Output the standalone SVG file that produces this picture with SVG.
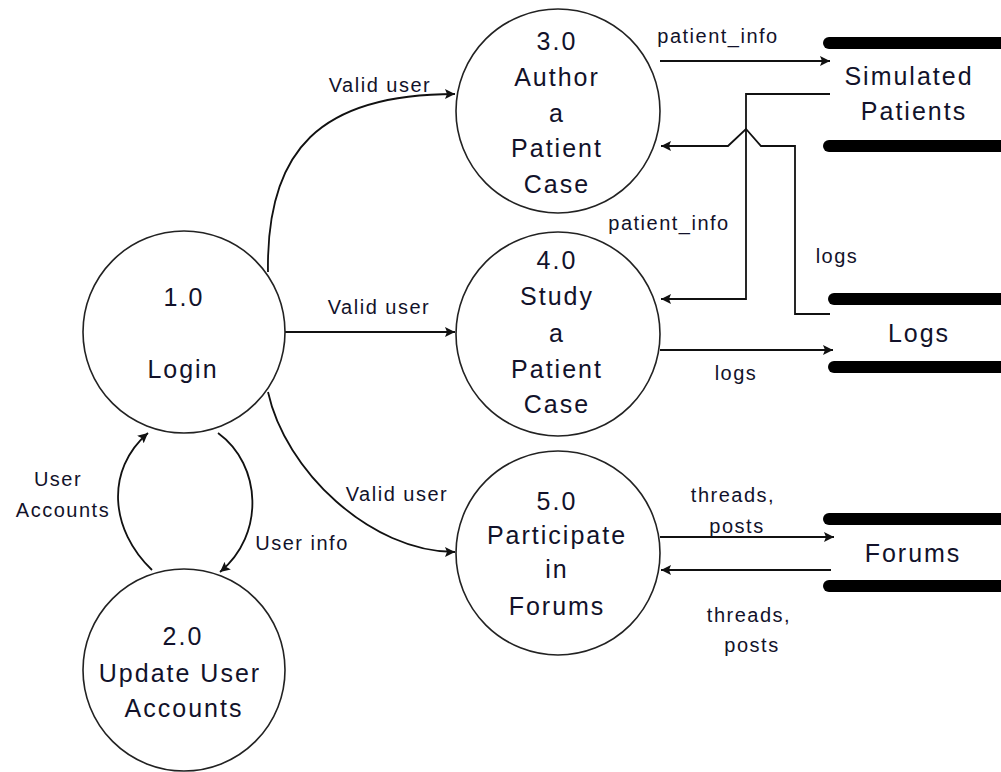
<svg xmlns="http://www.w3.org/2000/svg" width="1001" height="772" viewBox="0 0 1001 772">
<style>
.bub{fill:#fff;stroke:#222;stroke-width:1.6}
.nt{font-family:"Liberation Sans",Arial,sans-serif;font-size:25px;letter-spacing:2px;fill:#12122a;text-anchor:middle}
.lb{font-family:"Liberation Sans",Arial,sans-serif;font-size:20px;letter-spacing:1.5px;fill:#12122a;text-anchor:middle}
.bar{stroke:#000;stroke-width:12;stroke-linecap:round;fill:none}
.cn{fill:none;stroke:#111;stroke-width:1.8}
</style>
<defs>
<marker id="ah" viewBox="0 0 10 10" refX="10" refY="5" markerWidth="10" markerHeight="10" markerUnits="userSpaceOnUse" orient="auto">
<path d="M0,0 L10,5 L0,10 L2,5 z" fill="#111"/>
</marker>
</defs>
<rect width="1001" height="772" fill="#fff"/>

<g id="connectors">
<path class="cn" marker-end="url(#ah)" d="M268,272 C266,150 320,94 455,94"/>
<path class="cn" marker-end="url(#ah)" d="M285,332 L455,332"/>
<path class="cn" marker-end="url(#ah)" d="M268,392 C285,470 370,552 455,552"/>
<path class="cn" marker-end="url(#ah)" d="M152,570 C110,530 105,470 148,433"/>
<path class="cn" marker-end="url(#ah)" d="M218,433 C262,465 265,535 220,572"/>
<path class="cn" marker-end="url(#ah)" d="M660,61 L830,61"/>
<path class="cn" marker-end="url(#ah)" d="M830,94 L746,94 L746,299 L661,299"/>
<path class="cn" marker-end="url(#ah)" d="M830,314 L795,314 L795,146 L761,146 L746,129 L728,146 L661,146"/>
<path class="cn" marker-end="url(#ah)" d="M660,350 L833,350"/>
<path class="cn" marker-end="url(#ah)" d="M660,537 L834,537"/>
<path class="cn" marker-end="url(#ah)" d="M831,570 L661,570"/>
<text class="lb" x="718" y="43">patient_info</text>
<text class="lb" x="669" y="230">patient_info</text>
<text class="lb" x="837" y="263">logs</text>
<text class="lb" x="736" y="380">logs</text>
<text class="lb" x="380" y="92">Valid user</text>
<text class="lb" x="379" y="314">Valid user</text>
<text class="lb" x="397" y="501">Valid user</text>
<text class="lb" x="58" y="486">User</text>
<text class="lb" x="63" y="517">Accounts</text>
<text class="lb" x="302" y="550">User info</text>
<text class="lb" x="733" y="502">threads,</text>
<text class="lb" x="737" y="533">posts</text>
<text class="lb" x="749" y="622">threads,</text>
<text class="lb" x="752" y="652">posts</text>
</g>

<g id="p1">
<circle class="bub" cx="184" cy="332" r="101"/>
<text class="nt" x="184" y="306">1.0</text>
<text class="nt" x="183" y="378">Login</text>
</g>

<g id="p2">
<circle class="bub" cx="184" cy="670" r="101"/>
<text class="nt" x="183" y="645">2.0</text>
<text class="nt" x="180" y="682">Update User</text>
<text class="nt" x="184" y="717">Accounts</text>
</g>

<g id="p3">
<circle class="bub" cx="558" cy="111" r="102"/>
<text class="nt" x="557" y="50">3.0</text>
<text class="nt" x="557" y="86">Author</text>
<text class="nt" x="557" y="122">a</text>
<text class="nt" x="557" y="157">Patient</text>
<text class="nt" x="557" y="193">Case</text>
</g>

<g id="p4">
<circle class="bub" cx="558" cy="334" r="102"/>
<text class="nt" x="557" y="269">4.0</text>
<text class="nt" x="557" y="305">Study</text>
<text class="nt" x="557" y="342">a</text>
<text class="nt" x="557" y="378">Patient</text>
<text class="nt" x="557" y="413">Case</text>
</g>

<g id="p5">
<circle class="bub" cx="558" cy="553" r="102"/>
<text class="nt" x="557" y="510">5.0</text>
<text class="nt" x="557" y="544">Participate</text>
<text class="nt" x="557" y="578">in</text>
<text class="nt" x="557" y="615">Forums</text>
</g>

<g id="d1">
<line class="bar" x1="829" y1="43" x2="1012" y2="43"/>
<line class="bar" x1="829" y1="146" x2="1012" y2="146"/>
<text class="nt" x="909" y="85">Simulated</text>
<text class="nt" x="914" y="120">Patients</text>
</g>

<g id="d2">
<line class="bar" x1="834" y1="299" x2="1012" y2="299"/>
<line class="bar" x1="834" y1="367" x2="1012" y2="367"/>
<text class="nt" x="919" y="342">Logs</text>
</g>

<g id="d3">
<line class="bar" x1="829" y1="519" x2="1012" y2="519"/>
<line class="bar" x1="829" y1="586" x2="1012" y2="586"/>
<text class="nt" x="913" y="562">Forums</text>
</g>
</svg>
